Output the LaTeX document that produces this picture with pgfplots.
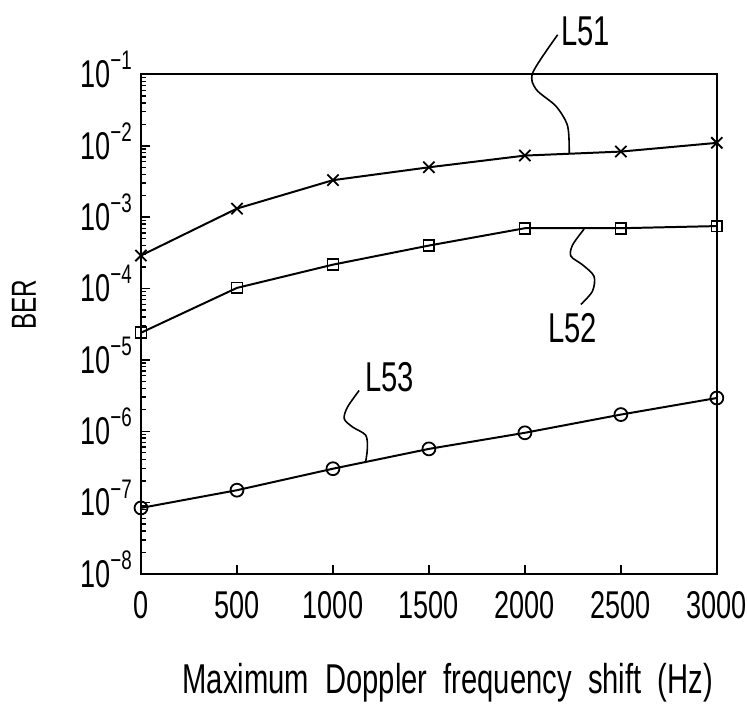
\documentclass[border=0pt]{standalone}
\usepackage{pgfplots}
\pgfplotsset{compat=1.18}
\usepackage{fontspec}
\setmainfont{Liberation Sans}[FakeStretch=0.7]
\newcommand{\tl}[1]{10\smash{\raisebox{18pt}{\fontsize{27}{27}\selectfont #1}}}
\begin{document}
\begin{tikzpicture}[x=1pt,y=1pt]
\path (-142,-126) rectangle (605,578);
\begin{axis}[
  at={(0,0)}, anchor=south west, scale only axis,
  width=580pt, height=503pt,
  ymode=log, ymin=1e-8, ymax=1e-1, xmin=0, xmax=3000,
  xtick={0,500,1000,1500,2000,2500,3000},
  xticklabels={0,500,1000,1500,2000,2500,3000},
  ytick={1e-8,1e-7,1e-6,1e-5,1e-4,1e-3,1e-2,1e-1},
  yticklabels={\tl{−8},\tl{−7},\tl{−6},\tl{−5},\tl{−4},\tl{−3},\tl{−2},\tl{−1}},
  tick align=inside, xtick pos=bottom, ytick pos=left,
  major tick length=9pt, minor tick length=5pt,
  axis line style={line width=2pt},
  every tick/.style={line width=1.4pt, black},
  ticklabel style={font=\fontsize{39}{39}\selectfont, inner sep=0pt},
  yticklabel style={anchor=east, xshift=-9pt},
  xticklabel style={anchor=base, yshift=-45pt},
  clip=false,
]
\addplot[black, line width=2pt, mark=x, mark size=8pt, mark options={line width=1.8pt}] coordinates {
(0,2.9e-4)(500,1.32e-3)(1000,3.3e-3)(1500,5.0e-3)(2000,7.3e-3)(2500,8.3e-3)(3000,1.1e-2)};
\addplot[black, line width=2pt, mark=square, mark size=5.5pt, mark options={line width=1.8pt}] coordinates {
(0,2.4e-5)(500,1.02e-4)(1000,2.16e-4)(1500,4.0e-4)(2000,7.0e-4)(2500,7.0e-4)(3000,7.5e-4)};
\addplot[black, line width=2pt, mark=o, mark size=6.5pt, mark options={line width=1.8pt}] coordinates {
(0,8.4e-8)(500,1.49e-7)(1000,2.98e-7)(1500,5.65e-7)(2000,9.5e-7)(2500,1.71e-6)(3000,2.92e-6)};
\end{axis}
\draw[line width=1.6pt] plot[smooth] coordinates {(419.7,543) (394.7,505) (398,488) (418,471) (429.7,451) (431.3,424)};
\draw[line width=1.6pt] plot[smooth] coordinates {(446.3,347.3) (434.7,331.3) (433,320) (444.7,311.3) (456.3,299.7) (454.7,284.7) (443,271.3)};
\draw[line width=1.6pt] plot[smooth] coordinates {(219.7,184.7) (208,168) (204.7,156.3) (213,148) (226.3,139.7) (228,126.3) (226.3,113)};
\node[font=\fontsize{42}{42}\selectfont] at (448,546) {L51};
\node[font=\fontsize{42}{42}\selectfont] at (434.7,248) {L52};
\node[font=\fontsize{42}{42}\selectfont] at (250.5,198) {L53};
\node[font=\fontsize{35}{35}\selectfont, rotate=90] at (-118,271) {BER};
\node[font=\fontsize{42}{42}\selectfont, anchor=base] at (309,-120) {Maximum\ \ Doppler\ \ frequency\ \ shift\ \ (Hz)};
\end{tikzpicture}
\end{document}
